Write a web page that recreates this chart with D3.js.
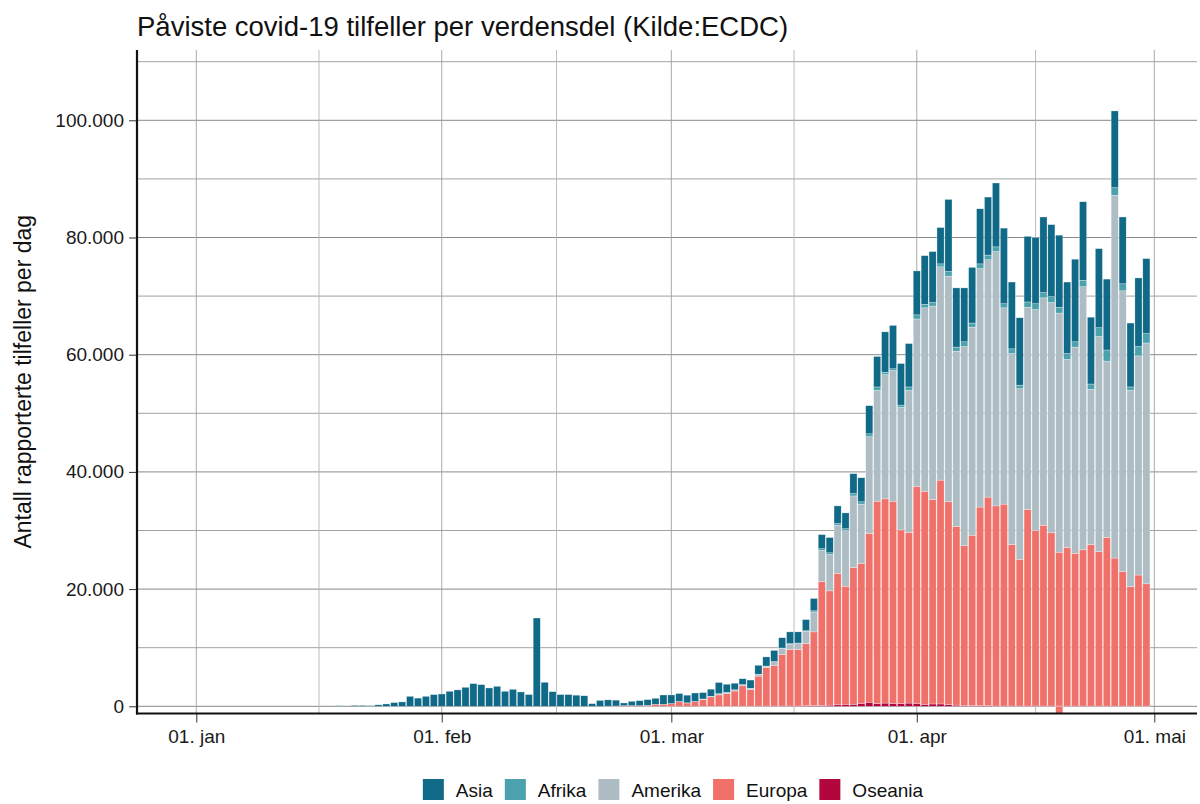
<!DOCTYPE html>
<html>
<head>
<meta charset="utf-8">
<script src="https://cdn.jsdelivr.net/npm/d3@7"></script>
<style>
  body { margin: 0; background: #fff; }
  svg { font-family: "Liberation Sans", Arial, sans-serif; }
</style>
</head>
<body>
<svg id="canvas" width="1200" height="804"></svg>
<script>
(function() {
  // daily reported cases (thousands), 19. jan - 30. apr 2020
  var startDate = "2020-01-19";
  var keys = ["Asia", "Afrika", "Amerika", "Europa", "Oseania"];
  var colors = ["#106986", "#4ba2ac", "#aebcc4", "#f0706a", "#b3063d"];

  var asia = [
    0.1, 0, 0.15, 0.15, 0.1, 0.25, 0.4, 0.63, 0.75, 1.7, 1.4, 1.7, 2.0,
    2.1, 2.56, 2.8, 3.24, 3.87, 3.7, 3.13, 3.41, 2.56, 2.9, 2.45, 2.0, 15.07, 4.1, 2.5, 2.0, 2.0, 1.9, 1.8, 0.45, 1.0, 1.08, 1.0, 0.47, 0.75, 0.87, 0.97, 1.03, 1.59,
    1.48, 1.36, 1.31, 1.45, 1.09, 1.2, 1.91, 1.39, 1.12, 0.99, 1.4, 1.52, 1.56, 1.9, 1.75, 2.0, 1.9, 1.9, 2.1, 2.4, 2.6, 3.0, 2.7, 3.4, 4.1, 4.8, 5.2, 6.9, 7.4, 7.1, 7.4,
    7.5, 8.3, 8.7, 6.2, 12.3, 10.1, 9.2, 9.5, 9.4, 9.9, 10.9, 12.9, 11.4, 11.5, 11.2, 11.3, 12.9, 12.3, 12.3, 12.2, 14.1, 13.4, 11.4, 13.5, 12.1, 13.1, 11.4, 10.9, 11.7, 12.8
  ];
  var afrika = [
    0, 0, 0, 0, 0, 0, 0, 0, 0, 0, 0, 0, 0,
    0, 0, 0, 0, 0, 0, 0, 0, 0, 0, 0, 0, 0, 0, 0, 0, 0, 0, 0, 0, 0, 0, 0, 0, 0, 0, 0, 0, 0,
    0, 0, 0, 0, 0, 0.01, 0.01, 0.01, 0.01, 0.02, 0.02, 0.03, 0.03, 0.05, 0.05, 0.1, 0.1, 0.1, 0.2, 0.3, 0.3, 0.3, 0.3, 0.4, 0.4, 0.5, 0.6, 0.4, 0.3, 0.4, 0.6,
    0.7, 0.6, 0.6, 0.5, 0.8, 0.7, 0.8, 0.7, 0.8, 0.8, 0.8, 0.7, 0.8, 0.6, 0.9, 1.0, 0.9, 1.0, 1.0, 1.0, 0.9, 1.1, 0.9, 1.5, 1.9, 1.3, 1.2, 0.6, 1.6, 1.6
  ];
  var amerika = [
    0, 0, 0, 0, 0, 0, 0, 0, 0, 0, 0, 0, 0,
    0, 0, 0, 0, 0, 0, 0, 0, 0, 0, 0, 0, 0, 0, 0, 0, 0, 0, 0, 0, 0, 0, 0, 0, 0, 0, 0, 0, 0,
    0.01, 0.02, 0.02, 0.02, 0.1, 0.1, 0.2, 0.2, 0.2, 0.2, 0.2, 0.3, 0.2, 0.6, 1.1, 0.9, 1.0, 2.1, 3.4, 5.3, 6.2, 8.2, 9.5, 12.2, 10.1, 16.5, 18.9, 21.2, 22.3, 20.9, 24.2,
    28.6, 31.3, 33.0, 36.4, 38.5, 29.9, 34.0, 35.5, 40.7, 40.5, 43.4, 33.5, 32.6, 29.1, 34.5, 37.7, 38.8, 39.3, 40.8, 32.1, 35.2, 44.9, 26.5, 36.7, 30.1, 61.9, 47.9, 33.5, 37.4, 41.1
  ];
  var europa = [
    0, 0, 0, 0, 0, 0, 0, 0, 0, 0, 0, 0, 0,
    0, 0, 0, 0, 0, 0, 0, 0, 0, 0, 0, 0, 0, 0, 0, 0, 0, 0, 0, 0, 0, 0.02, 0.05, 0.1, 0.1, 0.1, 0.17, 0.34, 0.34,
    0.45, 0.8, 0.57, 0.8, 1.14, 1.6, 1.93, 2.16, 2.6, 3.47, 2.84, 5.12, 6.6, 6.94, 8.75, 9.65, 9.65, 10.6, 12.6, 21.15, 19.5, 22.45, 20.15, 23.35, 23.9, 28.8, 34.55, 34.85, 34.5, 29.65, 29.15,
    37.0, 36.35, 34.9, 38.2, 34.6, 30.5, 27.25, 29.1, 33.9, 35.6, 34.15, 34.45, 27.55, 25.05, 33.55, 29.95, 30.85, 29.55, 26.25, 27.05, 26.05, 26.65, 27.57, 26.37, 28.77, 25.27, 22.97, 20.37, 22.37, 20.87
  ];
  var oseania = [
    0, 0, 0, 0, 0, 0, 0, 0, 0, 0, 0, 0, 0,
    0, 0, 0, 0, 0, 0, 0, 0, 0, 0, 0, 0, 0, 0, 0, 0, 0, 0, 0, 0, 0, 0, 0, 0, 0, 0, 0, 0, 0,
    0, 0, 0, 0, 0.01, 0.01, 0.01, 0.01, 0.01, 0.02, 0.02, 0.03, 0.04, 0.05, 0.05, 0.05, 0.05, 0.1, 0.1, 0.15, 0.2, 0.25, 0.35, 0.35, 0.5, 0.7, 0.45, 0.55, 0.5, 0.45, 0.55,
    0.5, 0.35, 0.4, 0.4, 0.3, 0.2, 0.15, 0.1, 0.1, 0.1, 0.05, 0.05, 0.05, 0.05, 0.05, 0.05, 0.05, 0.05, 0.05, 0.05, 0.05, 0.05, 0.03, 0.03, 0.03, 0.03, 0.03, 0.03, 0.03, 0.03
  ];
  // negative correction reported for Europe
  var europaNegDays = ["2020-04-19"];
  var europaNegValues = [-1.2];

  var yTicks = [0, 20000, 40000, 60000, 80000, 100000];
  var xTickDays = ["2020-01-01", "2020-02-01", "2020-03-01", "2020-04-01", "2020-05-01"];
  var xTickLabels = ["01. jan", "01. feb", "01. mar", "01. apr", "01. mai"];

  var parse = d3.utcParse("%Y-%m-%d");
  var start = parse(startDate);
  var table = asia.map(function(v, i) {
    return {
      date: d3.utcDay.offset(start, i),
      Asia: v * 1000, Afrika: afrika[i] * 1000, Amerika: amerika[i] * 1000,
      Europa: europa[i] * 1000, Oseania: oseania[i] * 1000
    };
  });

  var left = 137, right = 1197, top = 50, bottom = 713.5;
  var svg = d3.select("#canvas");
  var fmt = d3.formatLocale({decimal: ",", thousands: ".", grouping: [3], currency: ["", ""]}).format(",");

  var x = d3.scaleUtc().domain([parse("2020-01-01"), parse("2020-05-01")]).range([196.3, 1154.3]);
  var y = d3.scaleLinear().domain([0, 100000]).range([706.3, 120.3]);
  var dayW = x(parse("2020-01-02")) - x(parse("2020-01-01"));
  var barW = dayW * 0.9;

  // grid
  var g = svg.append("g");
  var minorY = d3.range(10000, 120000, 20000);
  g.selectAll(".hmin").data(minorY).join("line")
    .attr("x1", left).attr("x2", right).attr("y1", d => y(d)).attr("y2", d => y(d))
    .attr("stroke", "#8a8a8a").attr("stroke-width", 0.8);
  g.selectAll(".hmaj").data(yTicks).join("line")
    .attr("x1", left).attr("x2", right).attr("y1", d => y(d)).attr("y2", d => y(d))
    .attr("stroke", "#7a7a7a").attr("stroke-width", 0.9);
  var majX = xTickDays.map(parse);
  var minX = d3.pairs(majX).map(p => new Date((+p[0] + +p[1]) / 2));
  g.selectAll(".vmin").data(minX).join("line")
    .attr("x1", d => x(d)).attr("x2", d => x(d)).attr("y1", top).attr("y2", bottom)
    .attr("stroke", "#b4b4b4").attr("stroke-width", 0.9);
  g.selectAll(".vmaj").data(majX).join("line")
    .attr("x1", d => x(d)).attr("x2", d => x(d)).attr("y1", top).attr("y2", bottom)
    .attr("stroke", "#a0a0a0").attr("stroke-width", 0.9);

  // stacked bars (Oseania at bottom, Asia on top)
  var stackKeys = keys.slice().reverse();
  var color = d3.scaleOrdinal().domain(keys).range(colors);
  var series = d3.stack().keys(stackKeys)(table);
  svg.append("g").selectAll("g").data(series).join("g")
    .attr("fill", d => color(d.key))
    .selectAll("rect").data(d => d).join("rect")
      .attr("x", d => x(d.data.date) - barW / 2)
      .attr("width", barW)
      .attr("y", d => y(d[1]))
      .attr("height", d => Math.max(0, y(d[0]) - y(d[1])))
      .attr("stroke", "white").attr("stroke-width", 0.5).attr("stroke-opacity", 0.6);

  svg.append("g").selectAll("rect").data(europaNegDays).join("rect")
    .attr("fill", color("Europa"))
    .attr("x", d => x(parse(d)) - barW / 2)
    .attr("width", barW)
    .attr("y", y(0))
    .attr("height", (d, i) => y(europaNegValues[i] * 1000) - y(0))
    .attr("stroke", "white").attr("stroke-width", 0.5).attr("stroke-opacity", 0.6);

  // axes
  var ya = svg.append("g").attr("transform", "translate(" + left + ",0)")
    .call(d3.axisLeft(y).tickValues(yTicks).tickFormat(fmt).tickSize(8).tickPadding(5));
  ya.select(".domain").remove();
  ya.selectAll("line").attr("stroke", "#333");
  ya.selectAll("text").attr("font-size", 19).attr("fill", "#1a1a1a")
    .attr("font-family", "Liberation Sans, Arial, sans-serif");

  var xa = svg.append("g").attr("transform", "translate(0," + bottom + ")")
    .call(d3.axisBottom(x).tickValues(majX).tickFormat((d, i) => xTickLabels[i]).tickSize(9).tickPadding(7));
  xa.select(".domain").remove();
  xa.selectAll("line").attr("stroke", "#333");
  xa.selectAll("text").attr("font-size", 19).attr("fill", "#1a1a1a")
    .attr("font-family", "Liberation Sans, Arial, sans-serif");

  svg.append("line").attr("x1", left).attr("x2", left).attr("y1", top).attr("y2", bottom + 1)
    .attr("stroke", "#111").attr("stroke-width", 2.2);
  svg.append("line").attr("x1", left - 1).attr("x2", right).attr("y1", bottom).attr("y2", bottom)
    .attr("stroke", "#111").attr("stroke-width", 2.2);

  // titles
  svg.append("text").attr("x", left).attr("y", 36)
    .attr("font-size", 27.5).attr("fill", "#111")
    .text("Påviste covid-19 tilfeller per verdensdel (Kilde:ECDC)");
  svg.append("text").attr("transform", "translate(31," + ((top + bottom) / 2) + ") rotate(-90)")
    .attr("text-anchor", "middle").attr("font-size", 23).attr("fill", "#111")
    .text("Antall rapporterte tilfeller per dag");

  // legend
  var lg = svg.append("g");
  var items = lg.selectAll("g").data(keys).join("g");
  items.append("rect").attr("width", 21).attr("height", 21).attr("y", 779)
    .attr("fill", d => color(d));
  items.append("text").attr("x", 33).attr("y", 797).attr("font-size", 19).attr("fill", "#111")
    .text(d => d);
  var gap = 12, pos = 0, offs = [];
  items.each(function() {
    offs.push(pos);
    pos += 33 + d3.select(this).select("text").node().getComputedTextLength() + gap;
  });
  var total = pos - gap;
  var lx = (left + right) / 2 + 6 - total / 2;
  items.attr("transform", (d, i) => "translate(" + (lx + offs[i]) + ",0)");
})();
</script>
</body>
</html>
